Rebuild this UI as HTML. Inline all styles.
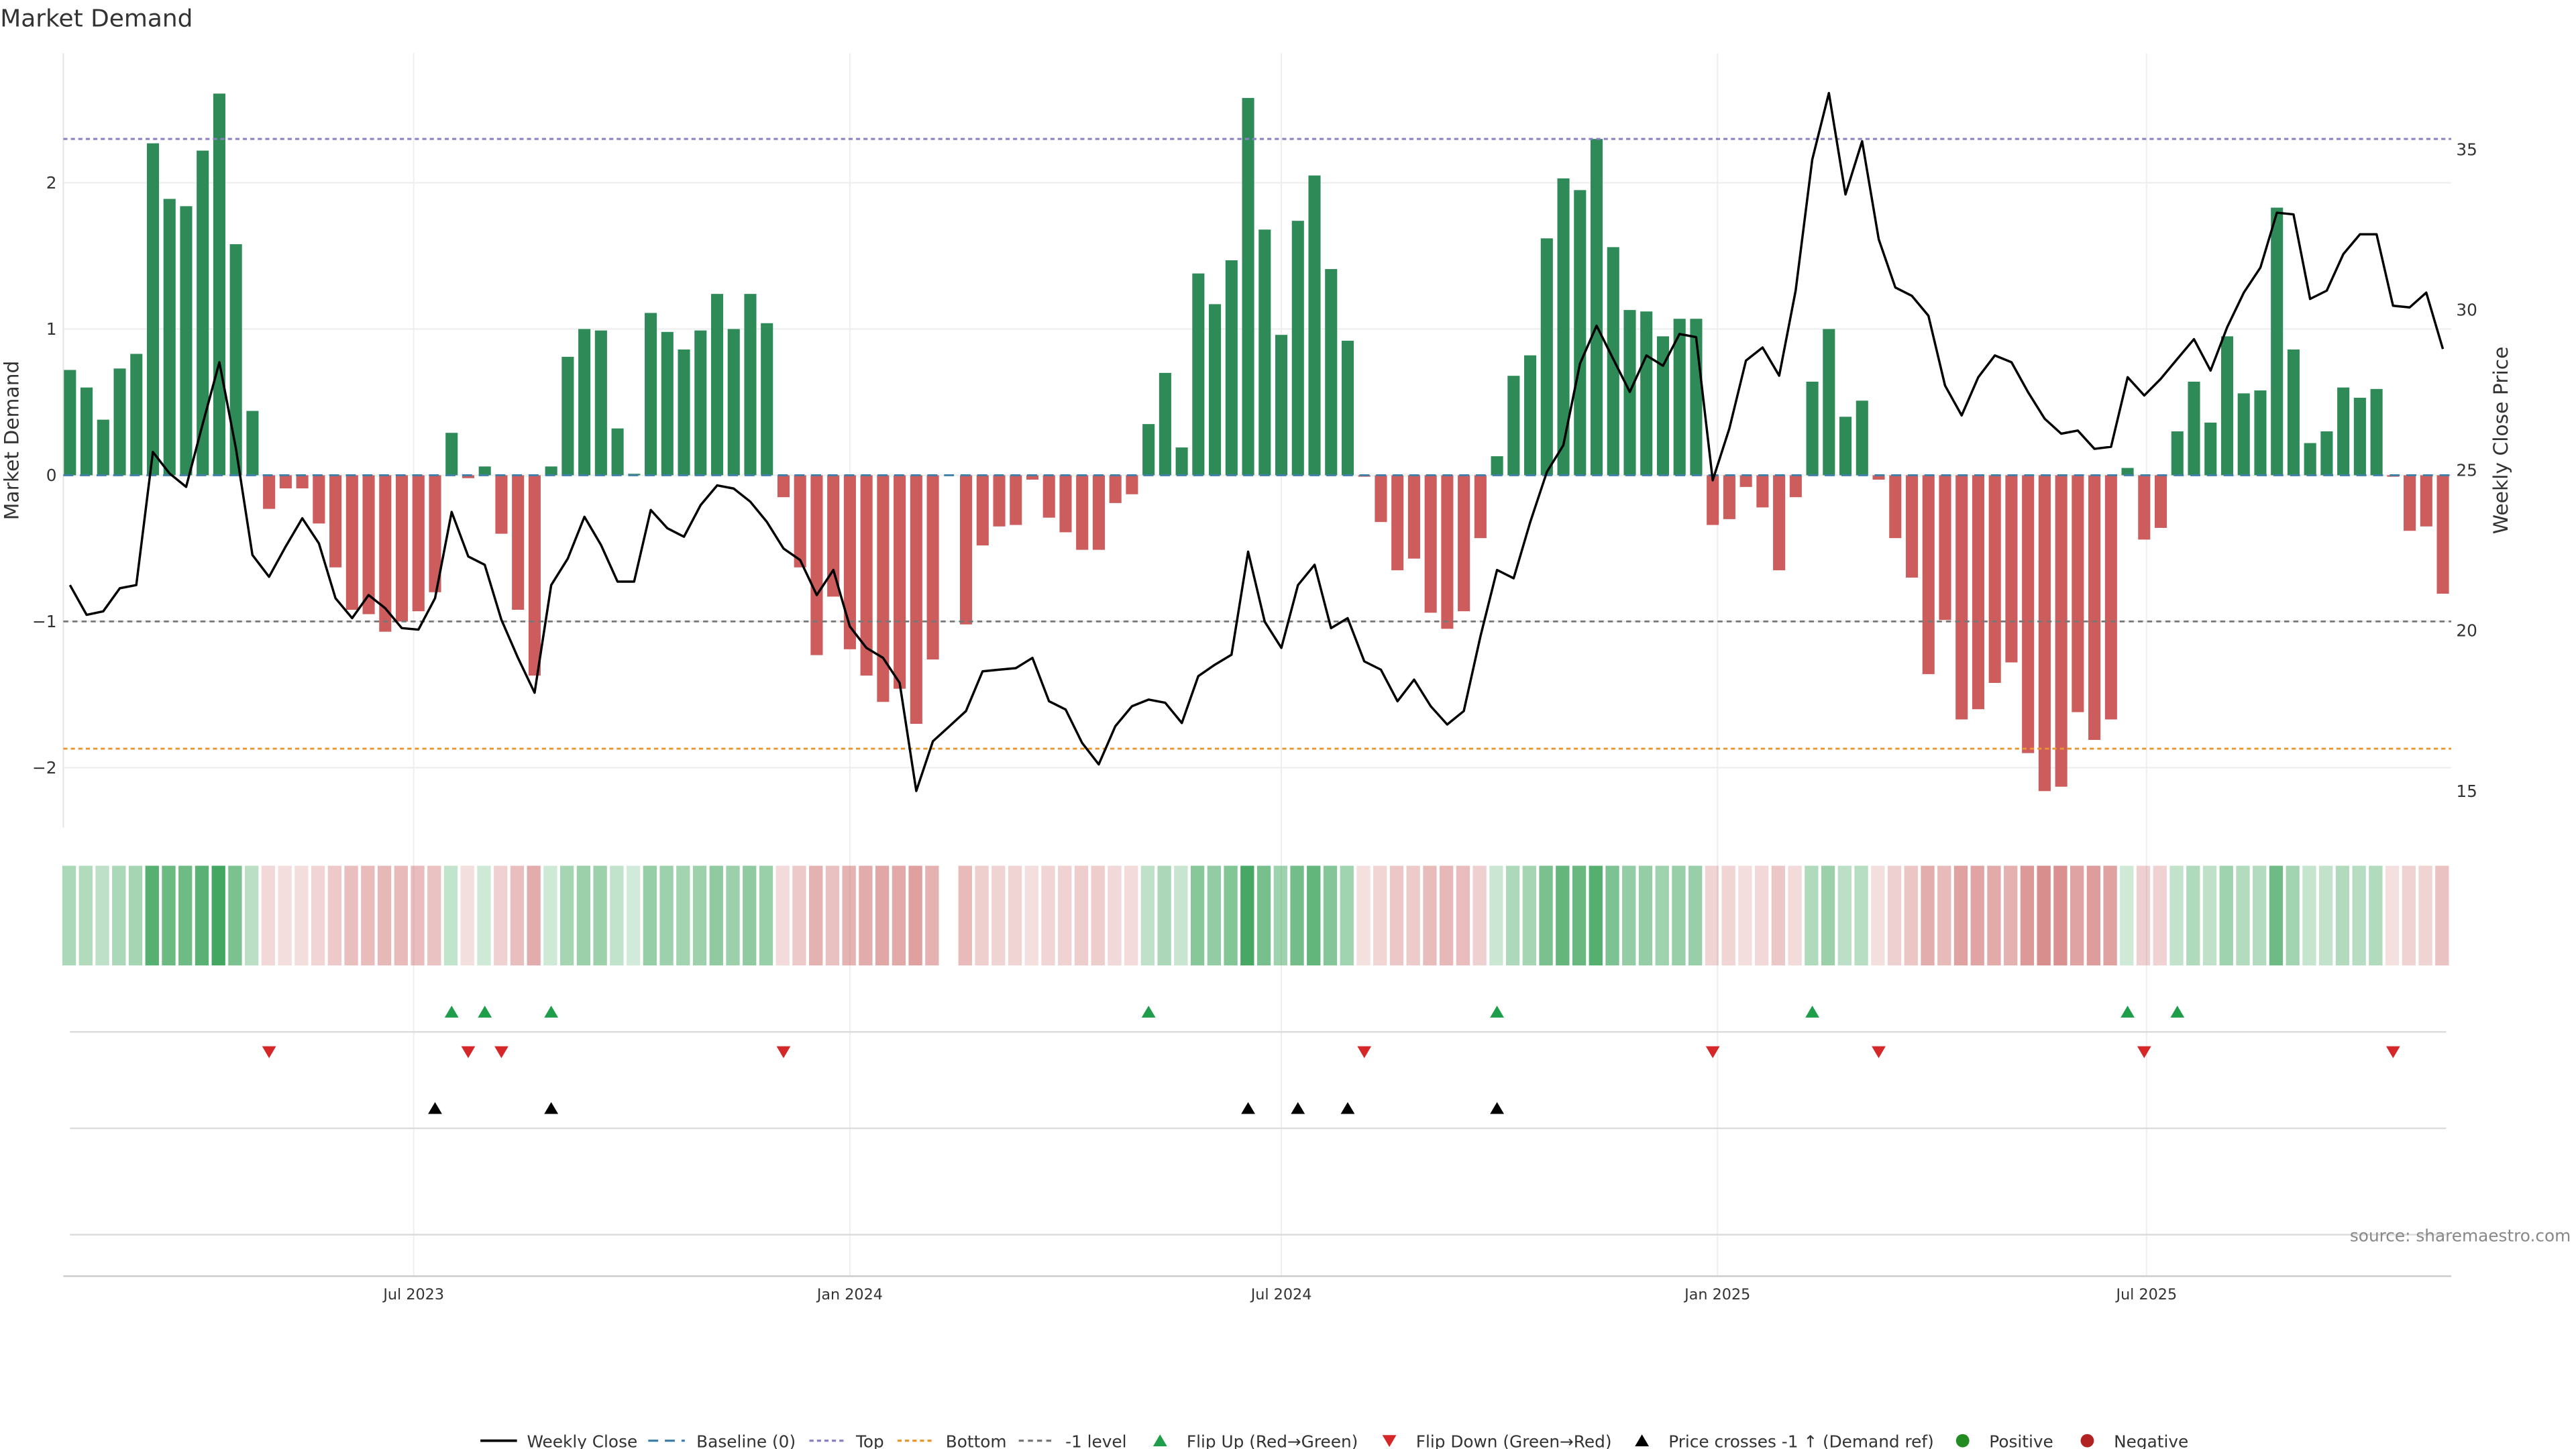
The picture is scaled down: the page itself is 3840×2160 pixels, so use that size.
<!DOCTYPE html>
<html><head><meta charset="utf-8">
<style>
html,body{margin:0;padding:0;background:#fff;}
svg{display:block;font-family:"DejaVu Sans","Liberation Sans",sans-serif;}
</style></head>
<body>
<svg id="chart" width="3840" height="2160" viewBox="0 0 1550 872" xmlns="http://www.w3.org/2000/svg">
<text x="0" y="16" font-size="14.5" fill="#333">Market Demand</text>
<g id="main"></g>
<g id="lower"></g>
<g id="legend"></g>
<text x="1547" y="747" font-size="10" fill="#888" text-anchor="end">source: sharemaestro.com</text>
</svg>
<script>
const demand = [0.72,0.6,0.38,0.73,0.83,2.27,1.89,1.84,2.22,2.61,1.58,0.44,-0.23,-0.09,-0.09,-0.33,-0.63,-0.92,-0.95,-1.07,-1.0,-0.93,-0.8,0.29,-0.02,0.06,-0.4,-0.92,-1.37,0.06,0.81,1.0,0.99,0.32,0.01,1.11,0.98,0.86,0.99,1.24,1.0,1.24,1.04,-0.15,-0.63,-1.23,-0.83,-1.19,-1.37,-1.55,-1.46,-1.7,-1.26,null,-1.02,-0.48,-0.35,-0.34,-0.03,-0.29,-0.39,-0.51,-0.51,-0.19,-0.13,0.35,0.7,0.19,1.38,1.17,1.47,2.58,1.68,0.96,1.74,2.05,1.41,0.92,-0.01,-0.32,-0.65,-0.57,-0.94,-1.05,-0.93,-0.43,0.13,0.68,0.82,1.62,2.03,1.95,2.3,1.56,1.13,1.12,0.95,1.07,1.07,-0.34,-0.3,-0.08,-0.22,-0.65,-0.15,0.64,1.0,0.4,0.51,-0.03,-0.43,-0.7,-1.36,-0.99,-1.67,-1.6,-1.42,-1.28,-1.9,-2.16,-2.13,-1.62,-1.81,-1.67,0.05,-0.44,-0.36,0.3,0.64,0.36,0.95,0.56,0.58,1.83,0.86,0.22,0.3,0.6,0.53,0.59,-0.01,-0.38,-0.35,-0.81];
const price = [21.42,20.49,20.6,21.32,21.42,25.57,24.9,24.48,26.45,28.37,25.67,22.36,21.68,22.62,23.5,22.72,21.01,20.39,21.11,20.7,20.08,20.03,21.01,23.7,22.31,22.05,20.34,19.15,18.06,21.42,22.25,23.55,22.67,21.53,21.53,23.76,23.19,22.93,23.91,24.53,24.43,24.02,23.39,22.56,22.2,21.11,21.89,20.13,19.46,19.15,18.37,15.0,16.55,17.02,17.49,18.73,18.78,18.83,19.15,17.8,17.54,16.5,15.83,17.02,17.64,17.85,17.75,17.12,18.58,18.94,19.25,22.46,20.28,19.46,21.42,22.05,20.08,20.39,19.04,18.78,17.8,18.47,17.64,17.07,17.49,19.82,21.89,21.63,23.39,24.95,25.78,28.32,29.51,28.47,27.44,28.58,28.26,29.25,29.15,24.69,26.3,28.42,28.83,27.95,30.6,34.69,36.76,33.6,35.26,32.2,30.7,30.44,29.82,27.64,26.71,27.9,28.58,28.37,27.44,26.61,26.14,26.24,25.67,25.73,27.9,27.33,27.85,28.47,29.09,28.11,29.46,30.54,31.32,33.03,32.98,30.34,30.6,31.74,32.36,32.36,30.13,30.08,30.54,28.78];
const crossIdx = [22,29,71,74,77,86];
const leftTicks = [2,1,0,-1,-2];
const leftTickLabels = ["2","1","0","\u22121","\u22122"];
const rightTicks = [35,30,25,20,15];
const dateTicks = ["2023-07-01","2024-01-01","2024-07-01","2025-01-01","2025-07-01"];
const dateTickLabels = ["Jul 2023","Jan 2024","Jul 2024","Jan 2025","Jul 2025"];
const levelTop = 2.3, levelBottom = -1.87, levelMinus1 = -1;
const startDate = "2023-02-06";

const NS="http://www.w3.org/2000/svg";
function mk(parent, tag, attrs, text){const e=document.createElementNS(NS,tag);for(const k in attrs)e.setAttribute(k,attrs[k]);if(text!=null)e.textContent=text;parent.appendChild(e);return e;}
const X0=42, STEP=9.986, BW=7.3;
const xi=i=>X0+i*STEP;
const xd=d=>X0+(new Date(d)-new Date(startDate))/86400000*(STEP/7);
const yL=v=>286-v*88;
const yR=p=>283-(p-25)*19.3;
const main=document.getElementById('main'), lower=document.getElementById('lower'), leg=document.getElementById('legend');
const PL=38, PR=1475;

// grid + ticks
leftTicks.forEach((t,k)=>{
  let g=mk(main,'line',{x1:PL,x2:PR,y1:yL(t),y2:yL(t),stroke:'#ececec','stroke-width':0.8});
  
  
  let tx=mk(main,'text',{x:34,y:yL(t)+3.5,'font-size':10,fill:'#333','text-anchor':'end'},leftTickLabels[k]);
  
  
});
rightTicks.forEach(t=>{
  let tx=mk(main,'text',{x:1478,y:yR(t)+3.5,'font-size':10,fill:'#333'},String(t));
  
  
});
dateTicks.forEach((d,k)=>{
  const x=xd(d);
  let g=mk(main,'line',{x1:x,x2:x,y1:32,y2:768,stroke:'#eeeeee','stroke-width':0.8});
  
  
  let tx=mk(lower,'text',{x:x,y:782,'font-size':9,fill:'#333','text-anchor':'middle'},dateTickLabels[k]);
  
  
});
let sp=mk(main,'line',{x1:PL,x2:PL,y1:32,y2:498,stroke:'#e4e4e4','stroke-width':0.8});


let yl=mk(main,'text',{x:11,y:265,'font-size':12,fill:'#333','text-anchor':'middle',transform:'rotate(-90 11 265)'},'Market Demand');


let yr=mk(main,'text',{x:1509,y:265,'font-size':12,fill:'#333','text-anchor':'middle',transform:'rotate(-90 1509 265)'},'Weekly Close Price');



// bars
demand.forEach((v,i)=>{
  if(v==null)return;
  const y0=yL(0),y1=yL(v);
  let r=mk(main,'rect',{x:xi(i)-BW/2,y:Math.min(y0,y1),width:BW,height:Math.max(Math.abs(y1-y0),0.3),fill:v>=0?'#2e8b57':'#cd5c5c'});
  
  
});
// reference lines
let l1=mk(main,'line',{x1:PL,x2:PR,y1:yL(levelTop),y2:yL(levelTop),stroke:'#8c7fc4','stroke-width':1.2,'stroke-dasharray':'2.5,2'});


let l2=mk(main,'line',{x1:PL,x2:PR,y1:yL(levelBottom),y2:yL(levelBottom),stroke:'#e8962f','stroke-width':1.2,'stroke-dasharray':'2.5,2'});


let l3=mk(main,'line',{x1:PL,x2:PR,y1:yL(levelMinus1),y2:yL(levelMinus1),stroke:'#777','stroke-width':1.1,'stroke-dasharray':'3,2.5'});


let l4=mk(main,'line',{x1:PL,x2:PR,y1:yL(0),y2:yL(0),stroke:'#3f7fa8','stroke-width':1.2,'stroke-dasharray':'6,4'});


// price line
let pts=price.map((p,i)=>xi(i).toFixed(1)+','+yR(p).toFixed(1)).join(' ');
let pl=mk(main,'polyline',{points:pts,fill:'none',stroke:'#000','stroke-width':1.4,'stroke-linejoin':'round'});



// heat strip
demand.forEach((v,i)=>{
  if(v==null)return;
  const a=0.22+0.7*Math.min(Math.abs(v)/2.6,1);
  let r=mk(lower,'rect',{x:xi(i)-4.6,y:521,width:8.2,height:60,fill:v>=0?'rgb(52,160,84)':'rgb(200,90,90)','fill-opacity':v>=0?a:a*0.85});
  
  
});
// panel lines
[621,679,743].forEach(y=>{
  let g=mk(lower,'line',{x1:42,x2:1472,y1:y,y2:y,stroke:'#dcdcdc','stroke-width':1});
  
  
});
let ax=mk(lower,'line',{x1:PL,x2:PR,y1:768,y2:768,stroke:'#ccc','stroke-width':1});


function tri(parent,x,y,up,col){
  const s=4.2;
  const p=up?`${x-s},${y+s*0.8} ${x+s},${y+s*0.8} ${x},${y-s*0.9}`:`${x-s},${y-s*0.8} ${x+s},${y-s*0.8} ${x},${y+s*0.9}`;
  return mk(parent,'polygon',{points:p,fill:col});
}
// flips from data
let prev=null;
demand.forEach((v,i)=>{
  if(v==null)return;
  if(prev!=null){
    if(prev<0&&v>=0){let t=tri(lower,xi(i),609,true,'#1e9e4a');
      
      }
    if(prev>=0&&v<0){let t=tri(lower,xi(i),633,false,'#d62728');
      
      }
  }
  prev=v;
});
crossIdx.forEach(i=>{
  let t=tri(lower,xi(i),667,true,'#000');
  
  
});

// legend
const Y=867, TY=871;
function ltext(x,s){let t=mk(leg,'text',{x:x,y:TY,'font-size':10,fill:'#333'},s);
  
  }
function lline(x,col,dash,w){let l=mk(leg,'line',{x1:x,x2:x+22,y1:Y,y2:Y,stroke:col,'stroke-width':w,'stroke-dasharray':dash});
  
  }
lline(289,'#000','none',1.5); ltext(317,'Weekly Close');
lline(390,'#3f7fa8','6,4',1.3); ltext(419,'Baseline (0)');
lline(487,'#8c7fc4','2.5,2',1.3); ltext(515,'Top');
lline(540,'#e8962f','2.5,2',1.3); ltext(569,'Bottom');
lline(613,'#777','3,2.5',1.3); ltext(641,'-1 level');
let a1=tri(leg,698,Y,true,'#1e9e4a');  
ltext(714,'Flip Up (Red\u2192Green)');
let a2=tri(leg,836,Y,false,'#d62728');  
ltext(852,'Flip Down (Green\u2192Red)');
let a3=tri(leg,988,Y,true,'#000');  
ltext(1004,'Price crosses -1 \u2191 (Demand ref)');
let c1=mk(leg,'circle',{cx:1181,cy:Y,r:4,fill:'#228b22'});  
ltext(1197,'Positive');
let c2=mk(leg,'circle',{cx:1256,cy:Y,r:4,fill:'#b22222'});  
ltext(1272,'Negative');
</script>
</body></html>
